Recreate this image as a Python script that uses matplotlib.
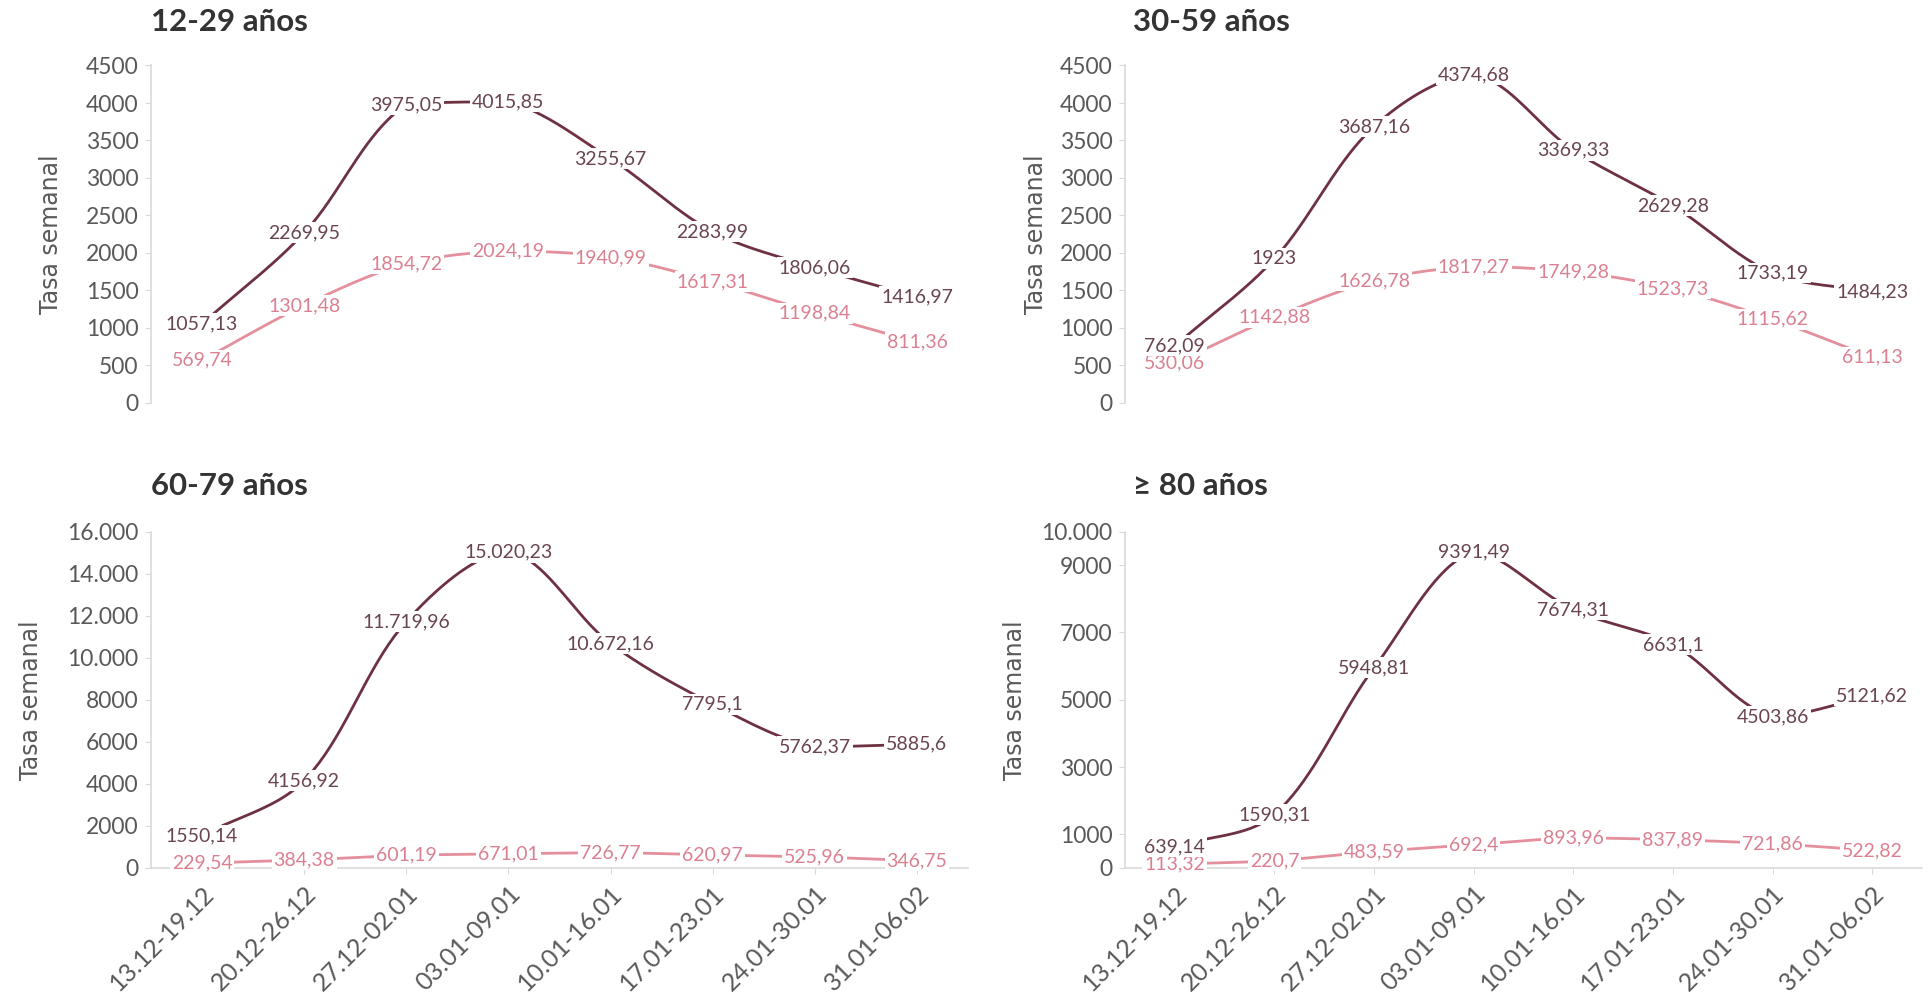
import numpy as np
import matplotlib
matplotlib.use("Agg")
import matplotlib.pyplot as plt

# semanas
weeks = ["13.12-19.12", "20.12-26.12", "27.12-02.01", "03.01-09.01",
         "10.01-16.01", "17.01-23.01", "24.01-30.01", "31.01-06.02"]

# tasa semanal por grupo de edad (linea oscura / linea rosa)
dark_12_29 = [1057.13, 2269.95, 3975.05, 4015.85, 3255.67, 2283.99, 1806.06, 1416.97]
pink_12_29 = [569.74, 1301.48, 1854.72, 2024.19, 1940.99, 1617.31, 1198.84, 811.36]
dark_30_59 = [762.09, 1923, 3687.16, 4374.68, 3369.33, 2629.28, 1733.19, 1484.23]
pink_30_59 = [530.06, 1142.88, 1626.78, 1817.27, 1749.28, 1523.73, 1115.62, 611.13]
dark_60_79 = [1550.14, 4156.92, 11719.96, 15020.23, 10672.16, 7795.1, 5762.37, 5885.6]
pink_60_79 = [229.54, 384.38, 601.19, 671.01, 726.77, 620.97, 525.96, 346.75]
dark_80 = [639.14, 1590.31, 5948.81, 9391.49, 7674.31, 6631.1, 4503.86, 5121.62]
pink_80 = [113.32, 220.7, 483.59, 692.4, 893.96, 837.89, 721.86, 522.82]

titles = ["12-29 años", "30-59 años", "60-79 años", "\u2265 80 años"]
yticks_12_29 = [0, 500, 1000, 1500, 2000, 2500, 3000, 3500, 4000, 4500]
yticks_30_59 = [0, 500, 1000, 1500, 2000, 2500, 3000, 3500, 4000, 4500]
yticks_60_79 = [0, 2000, 4000, 6000, 8000, 10000, 12000, 14000, 16000]
yticks_80 = [0, 1000, 3000, 5000, 7000, 9000, 10000]

DARK = "#6e3142"
PINK = "#e48f9c"
DARK_TXT = "#6a4450"
PINK_TXT = "#db8090"
GRAY = "#595959"
AXIS = "#d9d9d9"


def es_num(v, decimals=2):
    s = f"{v:.{decimals}f}"
    if "." in s:
        s = s.rstrip("0").rstrip(".")
    ent, _, dec = s.partition(".")
    if abs(v) >= 10000:
        ent = f"{int(ent):,}".replace(",", ".")
    return ent + ("," + dec if dec else "")


def smooth(xs, ys, sx, sy, n=40):
    # bezier suavizado, calculado en coordenadas de pantalla
    P = np.column_stack([np.asarray(xs) * sx, np.asarray(ys) * sy])
    m = len(P)
    d = np.linalg.norm(np.diff(P, axis=0), axis=1)
    out = [P[0]]
    t = np.linspace(0, 1, n)[1:, None]
    for i in range(m - 1):
        p1, p2 = P[i], P[i + 1]
        if i > 0:
            c1 = p1 + (p2 - P[i - 1]) * d[i] / (d[i - 1] + d[i]) / 3
        else:
            c1 = p1 + (p2 - p1) / 3
        if i < m - 2:
            c2 = p2 - (P[i + 2] - p1) * d[i] / (d[i] + d[i + 1]) / 3
        else:
            c2 = p2 - (p2 - p1) / 3
        lo, hi = min(p1[1], p2[1]), max(p1[1], p2[1])
        c1[1] = np.clip(c1[1], lo, hi)
        c2[1] = np.clip(c2[1], lo, hi)
        seg = ((1 - t) ** 3) * p1 + 3 * ((1 - t) ** 2) * t * c1 + 3 * (1 - t) * t ** 2 * c2 + t ** 3 * p2
        out.extend(seg)
    out = np.array(out)
    return out[:, 0] / sx, out[:, 1] / sy


W, H = 1928, 994
fig = plt.figure(figsize=(W / 100, H / 100), dpi=100)

panels = [
    (dark_12_29, pink_12_29, yticks_12_29, [151, 65.5, 968, 403], -0.108, False, 151),
    (dark_30_59, pink_30_59, yticks_30_59, [1125, 65.5, 1922, 403], -0.097, False, 1133),
    (dark_60_79, pink_60_79, yticks_60_79, [151, 531.5, 968, 868], -0.132, True, 151),
    (dark_80, pink_80, yticks_80, [1125, 531.5, 1922, 868], -0.123, True, 1133),
]

x = np.arange(len(weeks))
for k, (dk, pk, yt, box, ylab_x, show_x, tx) in enumerate(panels):
    l, t, r, b = box
    ax = fig.add_axes([l / W, 1 - b / H, (r - l) / W, (b - t) / H])
    ymax = yt[-1]
    ax.set_xlim(-0.5, len(weeks) - 0.5)
    ax.set_ylim(0, ymax)
    sx = (r - l) / len(weeks)
    sy = (b - t) / ymax
    for vals, col in [(pk, PINK), (dk, DARK)]:
        xx, yy = smooth(x, vals, sx, sy)
        ax.plot(xx, yy, color=col, lw=2, solid_capstyle="round", zorder=2, clip_on=False)
    for vals, tcol in [(pk, PINK_TXT), (dk, DARK_TXT)]:
        for xi, v in zip(x, vals):
            ax.text(xi, v, es_num(v), ha="center", va="center", color=tcol,
                    fontsize=14, family=["Lato", "DejaVu Sans"],
                    zorder=4, bbox=dict(boxstyle="square,pad=0.1", fc="white", ec="none"))

    for s in ["top", "right"]:
        ax.spines[s].set_visible(False)
    ax.spines["left"].set_color(AXIS)
    ax.spines["left"].set_linewidth(1.2)
    ax.set_yticks(yt)
    ax.set_yticklabels([es_num(v, 0) for v in yt], fontsize=16.5, color=GRAY,
                       family=["Lato", "DejaVu Sans"])
    ax.tick_params(axis="y", length=4, color=AXIS, pad=5)
    ax.set_ylabel("Tasa semanal", fontsize=17, color=GRAY, family="DejaVu Sans")
    ax.yaxis.set_label_coords(ylab_x, 0.5)
    ax.set_xticks(x)
    if show_x:
        ax.spines["bottom"].set_color(AXIS)
        ax.spines["bottom"].set_linewidth(1.2)
        ax.set_xticklabels(weeks, rotation=45, ha="right", rotation_mode="anchor",
                           fontsize=18, color=GRAY, family=["Lato", "DejaVu Sans"])
        ax.tick_params(axis="x", length=4, color=AXIS, pad=6)
    else:
        ax.spines["bottom"].set_visible(False)
        ax.set_xticklabels([])
        ax.tick_params(axis="x", length=0)
    ax.patch.set_alpha(0)

    fig.text(tx / W, 1 - (22 if k < 2 else 486) / H, titles[k], fontsize=22.5,
             fontweight="bold", color="#333333", va="center", ha="left",
             family=["Lato", "DejaVu Sans"])

fig.savefig("out.png", dpi=100)
